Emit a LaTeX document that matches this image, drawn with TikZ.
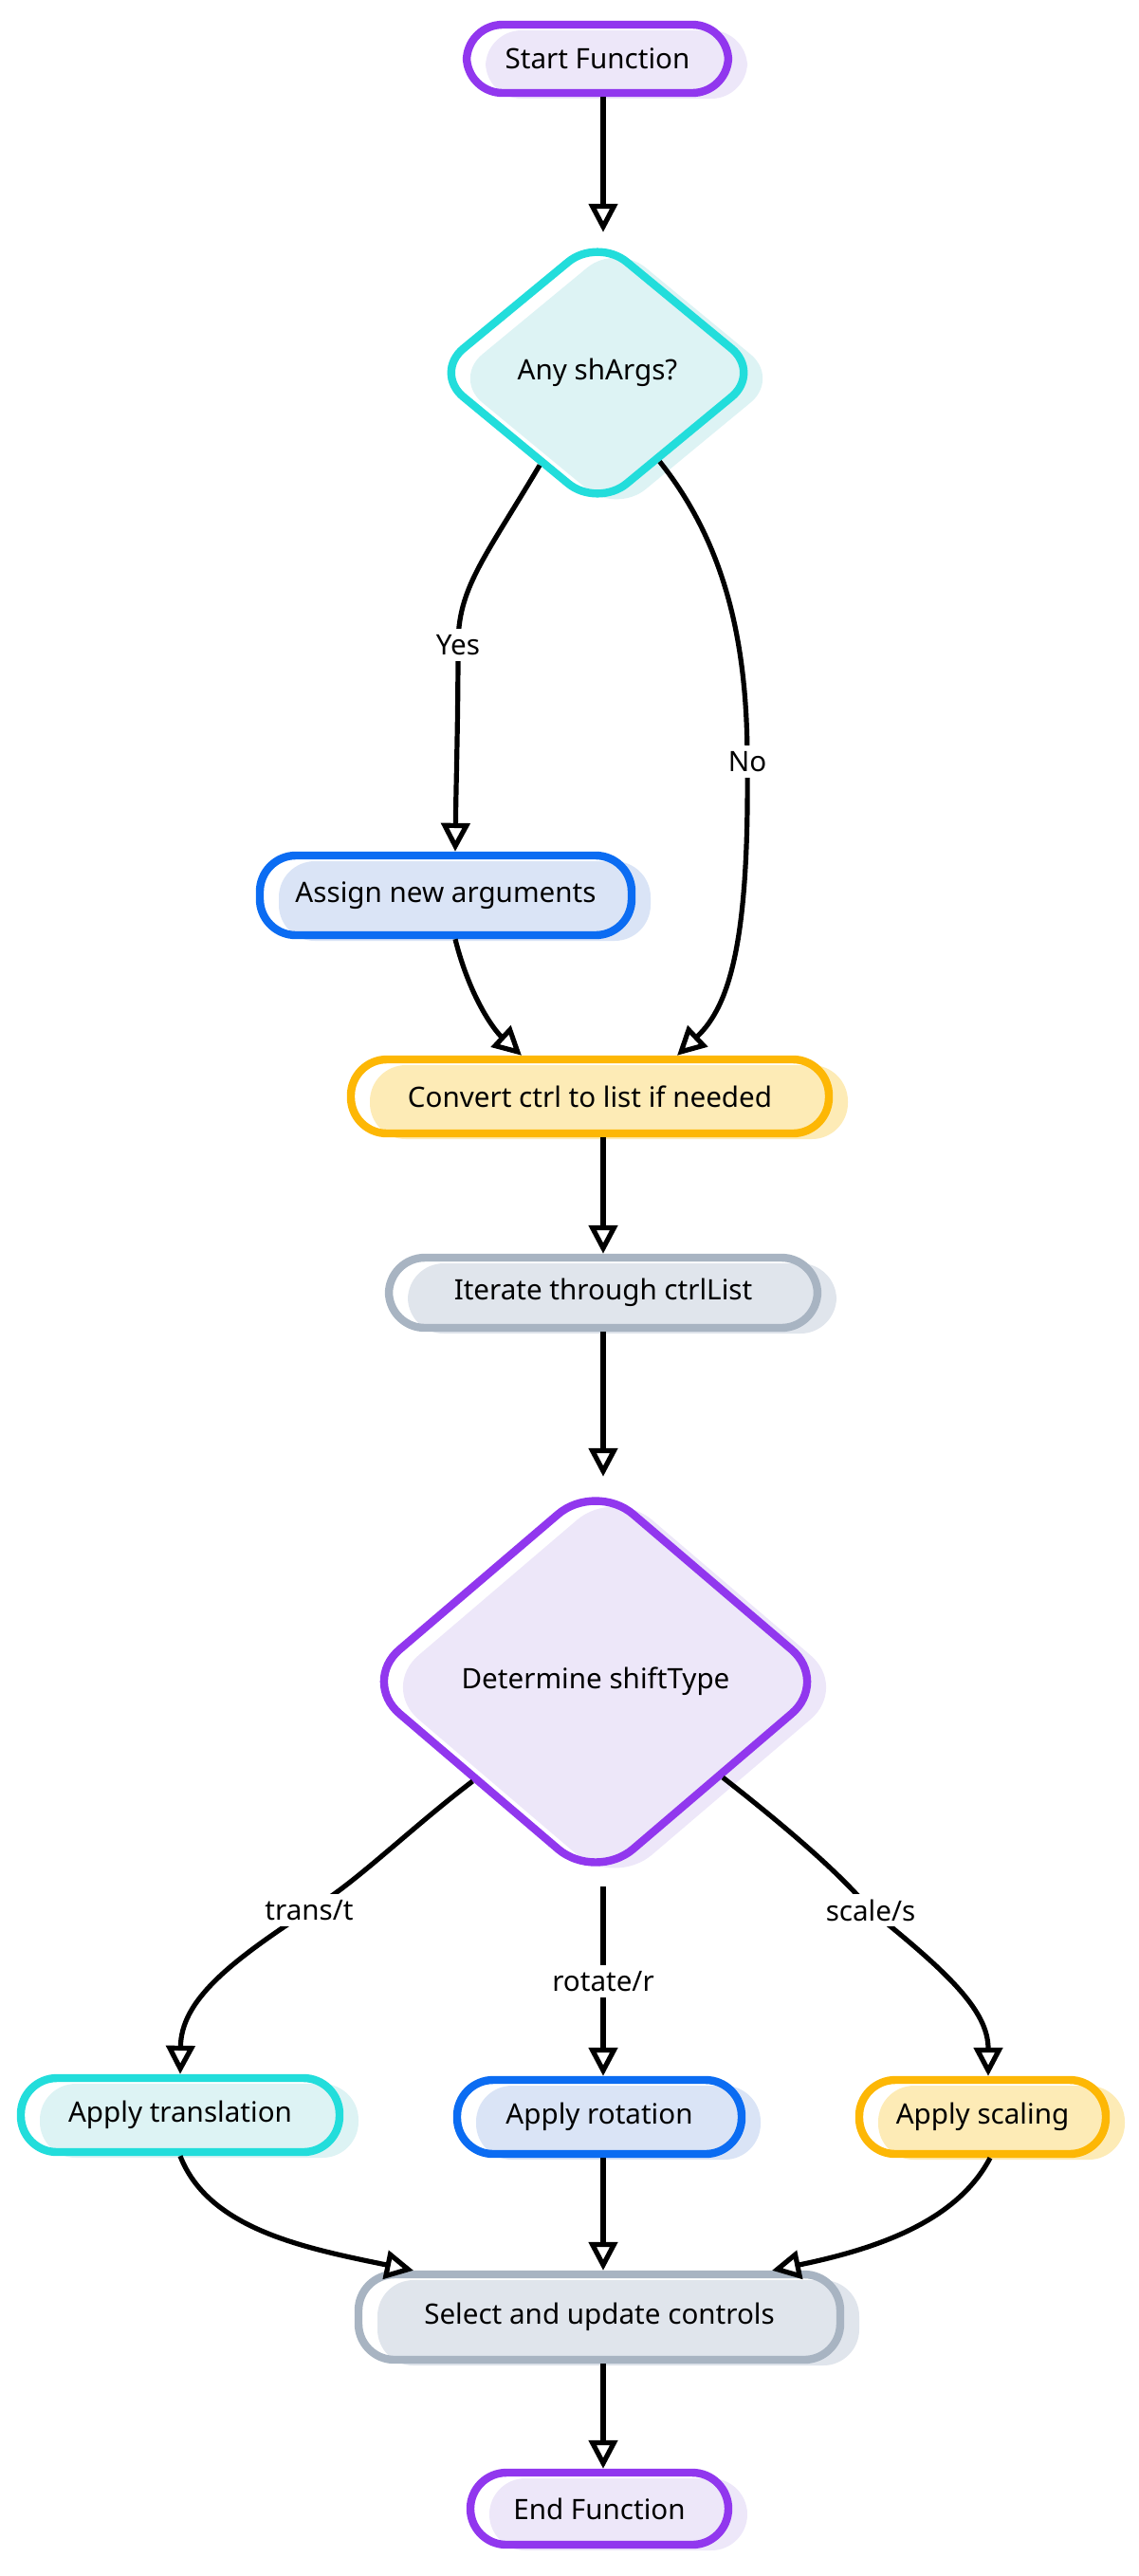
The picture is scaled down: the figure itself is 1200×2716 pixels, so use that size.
\documentclass[tikz,border=0pt]{standalone}
\usepackage{fontspec}
\setmainfont{Noto Sans}
\usetikzlibrary{arrows.meta,shapes.geometric}
\definecolor{cPur}{HTML}{9137EE}
\definecolor{fPur}{HTML}{EDE7F9}
\definecolor{cCya}{HTML}{22DDDB}
\definecolor{fCya}{HTML}{DDF3F4}
\definecolor{cBlu}{HTML}{0B6CF2}
\definecolor{fBlu}{HTML}{DAE4F6}
\definecolor{cAmb}{HTML}{FDB705}
\definecolor{fAmb}{HTML}{FDEBB6}
\definecolor{cGry}{HTML}{A8B4C2}
\definecolor{fGry}{HTML}{E0E5EC}
\begin{document}
\begin{tikzpicture}[x=0.5pt,y=-0.5pt,
  base/.style={font=\fontsize{14.8}{18}\selectfont, text=black, inner sep=0pt, line width=4.2pt},
  pill/.style={base, rectangle, rounded corners=19pt, minimum height=38pt},
  dec/.style={base, diamond, rounded corners=20pt},
  sk/.style 2 args={draw=#1, preaction={fill=#2, transform canvas={xshift=10pt,yshift=-3pt}}},
  arr/.style={draw=black, line width=2.6pt, -{Triangle[length=15pt, width=15pt, fill=white]}},
  lbl/.style={fill=white, font=\fontsize{14.8}{18}\selectfont, inner sep=3pt}]
\useasboundingbox (0,0) rectangle (1200,2716);

% nodes
\node[pill, sk={cPur}{fPur}, minimum width=138pt, minimum height=36pt] (start) at (630,62) {Start Function};
\node[dec, sk={cCya}{fCya}, minimum width=174pt, minimum height=144pt] (d1) at (630,393) {Any shArgs?};
\node[pill, sk={cBlu}{fBlu}, minimum width=196pt, minimum height=42pt] (assign) at (470,944) {Assign new arguments};
\node[pill, sk={cAmb}{fAmb}, minimum width=252pt, minimum height=39pt] (convert) at (622,1156) {Convert ctrl to list if needed};
\node[pill, sk={cGry}{fGry}, minimum width=226pt, minimum height=37pt] (iter) at (636,1363) {Iterate through ctrlList};
\node[dec, sk={cPur}{fPur}, minimum width=248pt, minimum height=212pt, rounded corners=26pt] (d2) at (628,1773) {Determine shiftType};
\node[pill, sk={cCya}{fCya}, minimum width=168pt, minimum height=39pt] (trans) at (190,2230) {Apply translation};
\node[pill, sk={cBlu}{fBlu}, minimum width=150pt, minimum height=39pt] (rot) at (632,2232) {Apply rotation};
\node[pill, sk={cAmb}{fAmb}, minimum width=130pt, minimum height=39pt] (scale) at (1036,2232) {Apply scaling};
\node[pill, sk={cGry}{fGry}, minimum width=254pt, minimum height=45pt] (select) at (632,2443) {Select and update controls};
\node[pill, sk={cPur}{fPur}, minimum width=136pt, minimum height=38pt] (end) at (632,2645) {End Function};

% connectors
\draw[arr] (start.south -| 636,0) -- (d1.north -| 636,0);
\draw[arr] (d1.-122) .. controls (510,590) and (483,620) .. (483,680) node[lbl] (lyes) {Yes}
  .. controls (483,760) and (481,820) .. ([xshift=5pt]assign.north);
\draw[arr] (d1.-55) .. controls (770,580) and (788,690) .. (788,803) node[lbl] (lno) {No}
  .. controls (790,990) and (770,1060) .. ([xshift=46pt]convert.north);
\draw[arr] ([xshift=5pt]assign.south) .. controls (495,1050) and (520,1085) .. ([xshift=-36pt]convert.north);
\draw[arr] (convert.south -| 636,0) -- (iter.north -| 636,0);
\draw[arr] (iter.south -| 636,0) -- (d2.north -| 636,0);
\draw[arr] (d2.-141) .. controls (430,1930) and (370,1990) .. (326,2014) node[lbl] (ltr) {trans/t}
  .. controls (240,2070) and (191,2110) .. (trans.north);
\draw[arr] (d2.south -| 636,0) -- node[lbl] (lrot) {rotate/r} (rot.north -| 636,0);
\draw[arr] (d2.-37) .. controls (840,1935) and (890,1980) .. (918,2014) node[lbl] (lsc) {scale/s}
  .. controls (1000,2080) and (1042,2120) .. ([xshift=3pt]scale.north);
\draw[arr] (trans.south) .. controls (220,2350) and (320,2370) .. ([xshift=-98pt]select.north);
\draw[arr] (rot.south -| 636,0) -- (select.north -| 636,0);
\draw[arr] ([xshift=4pt]scale.south) .. controls (1010,2340) and (930,2370) .. ([xshift=91pt]select.north);
\draw[arr] (select.south -| 636,0) -- (end.north -| 636,0);
\end{tikzpicture}
\end{document}
